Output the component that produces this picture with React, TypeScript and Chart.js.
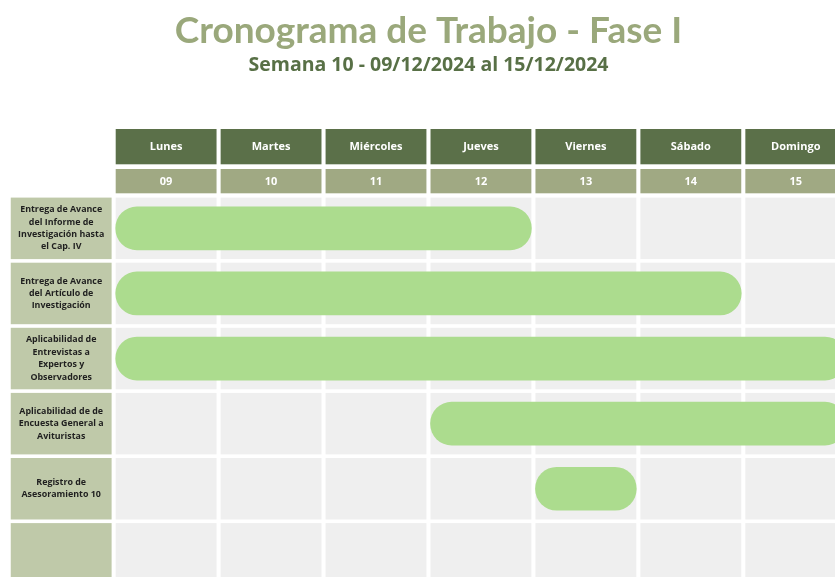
import React, { useEffect, useRef } from "react";
import { Chart, registerables } from "chart.js";

Chart.register(...registerables);

const TITLE = "Cronograma de Trabajo - Fase I";
const SUBTITLE = "Semana 10 - 09/12/2024 al 15/12/2024";
const DAY_NAMES = ["Lunes", "Martes", "Miércoles", "Jueves", "Viernes", "Sábado", "Domingo"];
const DAY_NUMBERS = ["09", "10", "11", "12", "13", "14", "15"];
const TASK_LABELS: string[][] = [
  ["Entrega de Avance", "del Informe de", "Investigación hasta", "el Cap. IV"],
  ["Entrega de Avance", "del Artículo de", "Investigación"],
  ["Aplicabilidad de", "Entrevistas a", "Expertos y", "Observadores"],
  ["Aplicabilidad de de", "Encuesta General a", "Avituristas"],
  ["Registro de", "Asesoramiento 10"],
  [],
];
// first and last day index (0 = Lunes) of each task; null = no bar
const TASK_START: (number | null)[] = [0, 0, 0, 3, 4, null];
const TASK_END: (number | null)[] = [3, 5, 6, 6, 4, null];

const X_MIN = -1.1025;
const X_MAX = 7.064;
const CELL = 0.961; // fraction of a day column filled by a cell
const ROW_HALF = 30.75; // half height of a task row cell (px)

const C_HEADER = "#5b7049";
const C_DAYNUM = "#a0a983";
const C_LABEL = "#bfc9a9";
const C_CELL = "#efefef";
const C_BAR = "#acdc8e";

const tablePlugin = {
  id: "tablePlugin",
  beforeDatasetsDraw(chart: any) {
    const { ctx, chartArea, scales } = chart;
    const xs = scales.x;
    const ys = scales.y;
    const top = chartArea.top;
    ctx.save();
    ctx.textAlign = "center";
    ctx.textBaseline = "middle";
    // header rows
    DAY_NAMES.forEach((name, j) => {
      const x0 = xs.getPixelForValue(j);
      const x1 = xs.getPixelForValue(j + CELL);
      ctx.fillStyle = C_HEADER;
      ctx.fillRect(x0, top - 66.8, x1 - x0, 35.3);
      ctx.fillStyle = C_DAYNUM;
      ctx.fillRect(x0, top - 26.8, x1 - x0, 24.3);
      ctx.fillStyle = "#ffffff";
      ctx.font = "bold 11px 'Open Sans'";
      ctx.fillText(name, (x0 + x1) / 2, top - 48.5);
      ctx.fillText(DAY_NUMBERS[j], (x0 + x1) / 2, top - 14.2);
    });
    // rows
    TASK_LABELS.forEach((lines, i) => {
      const yc = ys.getPixelForValue(i);
      const lx0 = xs.getPixelForValue(-1);
      const lx1 = xs.getPixelForValue(-1 + CELL);
      ctx.fillStyle = C_LABEL;
      ctx.fillRect(lx0, yc - ROW_HALF, lx1 - lx0, ROW_HALF * 2);
      for (let j = 0; j < DAY_NAMES.length; j++) {
        const x0 = xs.getPixelForValue(j);
        const x1 = xs.getPixelForValue(j + CELL);
        ctx.fillStyle = C_CELL;
        ctx.fillRect(x0, yc - ROW_HALF, x1 - x0, ROW_HALF * 2);
      }
      ctx.fillStyle = "#1f1f1f";
      ctx.font = "bold 8.9px 'Open Sans'";
      const lh = 12.4;
      lines.forEach((ln, k) => {
        const y = yc + (k - (lines.length - 1) / 2) * lh;
        ctx.fillText(ln, (lx0 + lx1) / 2, y);
      });
    });
    ctx.restore();
  },
};

export default function App() {
  const ref = useRef<HTMLCanvasElement | null>(null);
  useEffect(() => {
    if (!ref.current) return;
    const data = TASK_START.map((s, i) => {
      const e = TASK_END[i];
      return s === null || e === null ? null : [s, e + CELL];
    });
    const chart = new Chart(ref.current, {
      type: "bar",
      data: {
        labels: TASK_LABELS.map((l) => l.join(" ")),
        datasets: [
          {
            data: data as any,
            backgroundColor: C_BAR,
            borderWidth: 0,
            borderRadius: 22,
            borderSkipped: false,
            barThickness: 43,
          },
        ],
      },
      options: {
        indexAxis: "y",
        responsive: false,
        animation: false,
        layout: { padding: { left: 0, right: 0, top: 0, bottom: 3.6 } },
        plugins: {
          legend: { display: false },
          tooltip: { enabled: false },
          title: {
            display: true,
            text: TITLE,
            color: "#9aa87b",
            font: { family: "Lato", size: 37, weight: "bold" },
            padding: { top: 8.5, bottom: 1.1 },
          },
          subtitle: {
            display: true,
            text: SUBTITLE,
            color: "#587046",
            font: { family: "'Open Sans'", size: 19.5, weight: "bold" },
            padding: { top: 0, bottom: 118.4 },
          },
        },
        scales: {
          x: { type: "linear", min: X_MIN, max: X_MAX, display: false, grid: { display: false } },
          y: { type: "category", offset: true, display: false, grid: { display: false } },
        },
      },
      plugins: [tablePlugin],
    });
    return () => chart.destroy();
  }, []);
  return (
    <div style={{ position: "fixed", left: 0, top: 0, width: 835, height: 577, overflow: "hidden", background: "#fff" }}>
      <canvas ref={ref} width={857} height={590} style={{ display: "block" }} />
    </div>
  );
}
